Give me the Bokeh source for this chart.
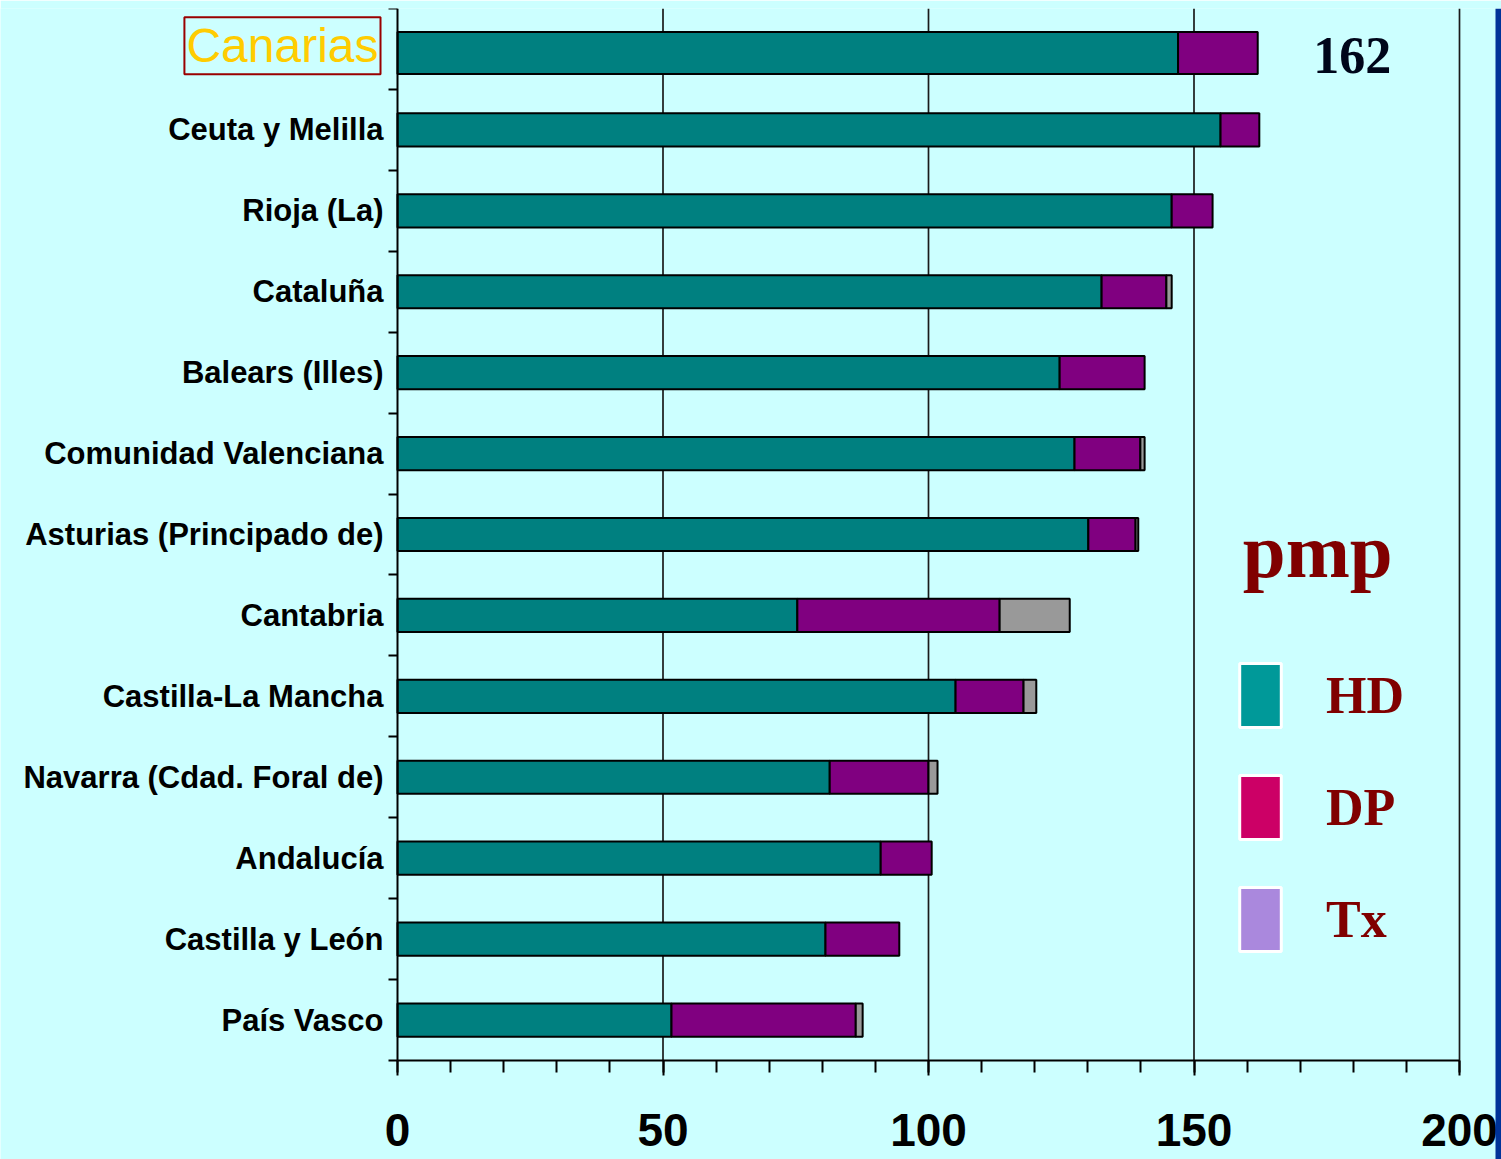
import numpy as np
from bokeh.plotting import figure
from bokeh.models import Range1d, FixedTicker, Label, ColumnDataSource, LinearAxis, BoxAnnotation
from bokeh.embed import file_html
from bokeh.resources import INLINE

# Patients per million population, by region and modality
regions = [
    "Canarias",
    "Ceuta y Melilla",
    "Rioja (La)",
    "Cataluña",
    "Balears (Illes)",
    "Comunidad Valenciana",
    "Asturias (Principado de)",
    "Cantabria",
    "Castilla-La Mancha",
    "Navarra (Cdad. Foral de)",
    "Andalucía",
    "Castilla y León",
    "País Vasco",
]
hd = [147.0, 155.0, 145.8, 132.6, 124.7, 127.5, 130.1, 75.3, 105.1, 81.4, 91.0, 80.6, 51.6]
dp = [15.0, 7.3, 7.7, 12.2, 16.0, 12.4, 8.9, 38.1, 12.8, 18.6, 9.6, 13.9, 34.7]
tx = [0.0, 0.0, 0.0, 1.0, 0.0, 0.8, 0.5, 13.2, 2.4, 1.7, 0.0, 0.0, 1.3]

series_names = ["HD", "DP", "Tx"]
x_ticks = [0, 50, 100, 150, 200]
x_minor = list(range(0, 201, 10))

BG = "#CCFFFF"
BAR_COLORS = ["#008080", "#800080", "#999999"]
KEY_COLORS = ["#009999", "#CC0066", "#AA88DD"]
DARK_RED = "#800000"

# canvas geometry (pixels)
W, H = 1501, 1159
TOP = 8            # top of the bar area
AXIS_Y = 1060      # x-axis line
ZERO_X = 397       # x = 0
END_X = 1459       # x = 200
BAND_X = 1495      # start of the blue edge band

n = len(regions)
row_px = (AXIS_Y - TOP) / n
px_per_unit = (END_X - ZERO_X) / 200.0
x_lo = -ZERO_X / px_per_unit
x_hi = 200 + (W - END_X) / px_per_unit
y_lo = 0.5 - (H - AXIS_Y) / row_px
y_hi = n + 0.5

ypos = np.arange(n, 0, -1).astype(float)   # first region on top
hd_a, dp_a, tx_a = (np.array(v, dtype=float) for v in (hd, dp, tx))
edges = [np.zeros(n), hd_a, hd_a + dp_a, hd_a + dp_a + tx_a]
first = ypos == n
heights = np.where(first, 0.52, 0.41)
bar_y = ypos - np.where(first, 0.05, 0.0)

p = figure(
    width=W, height=H,
    x_range=Range1d(x_lo, x_hi), y_range=Range1d(y_lo, y_hi),
    x_axis_type=None, y_axis_type=None,
    output_backend="svg", toolbar_location=None,
    min_border_left=0, min_border_right=0,
    min_border_top=TOP, min_border_bottom=0,
    background_fill_color=BG, border_fill_color=BG, outline_line_color=None,
)

# vertical reference lines at the labelled ticks
grid_x = x_ticks[1:]
p.segment(x0=grid_x, x1=grid_x, y0=[0.5] * len(grid_x), y1=[y_hi] * len(grid_x),
          line_color="#1a1a1a", line_width=1.7)

# stacked segments
for k, color in enumerate(BAR_COLORS):
    left, right = edges[k], edges[k + 1]
    keep = right > left
    src = ColumnDataSource(dict(y=bar_y[keep], left=left[keep], right=right[keep], h=heights[keep]))
    p.hbar(y="y", left="left", right="right", height="h", source=src,
           fill_color=color, line_color="black", line_width=2)

# key swatches (no visible bar of their own)
for name, color in zip(series_names, KEY_COLORS):
    p.hbar(y=[float("nan")], left=[0.0], right=[1.0], height=0.4, fill_color=color,
           line_color="white", line_width=3, legend_label=name)

lg = p.legend[0]
lg.location = (1234, H - 959)
lg.orientation = "vertical"
lg.background_fill_alpha = 0
lg.border_line_color = None
lg.padding = 0
lg.margin = 0
lg.spacing = 32
lg.glyph_width = 52
lg.glyph_height = 80
lg.label_standoff = 40
lg.label_text_font = "Liberation Serif"
lg.label_text_font_style = "bold"
lg.label_text_font_size = "52px"
lg.label_text_color = DARK_RED

# x axis, pinned at the bottom of the bars
xa = LinearAxis(fixed_location=0.5, bounds=(0, 200))
xa.ticker = FixedTicker(ticks=x_ticks, minor_ticks=x_minor)
xa.axis_line_color = "black"
xa.axis_line_width = 2
xa.major_tick_in = 0
xa.major_tick_out = 15
xa.major_tick_line_width = 2
xa.minor_tick_in = 0
xa.minor_tick_out = 12
xa.minor_tick_line_width = 2
xa.major_label_standoff = 38
xa.major_label_text_font = "Liberation Sans"
xa.major_label_text_font_style = "bold"
xa.major_label_text_font_size = "46px"
xa.major_label_text_color = "black"
p.add_layout(xa, "below")

# y axis at x = 0: names at row centres, ticks at row boundaries
ya = LinearAxis(fixed_location=0, bounds=(0.5, y_hi))
ya.ticker = FixedTicker(ticks=list(ypos), minor_ticks=list(np.arange(0.5, n + 1.0, 1.0)))
overrides = {int(y): name for y, name in zip(ypos, regions)}
overrides[n] = ""
ya.major_label_overrides = overrides
ya.axis_line_color = "black"
ya.axis_line_width = 2
ya.major_tick_line_color = None
ya.major_tick_in = 0
ya.major_tick_out = 0
ya.minor_tick_in = 0
ya.minor_tick_out = 9
ya.minor_tick_line_width = 2
ya.major_label_standoff = 5
ya.major_label_text_font = "Liberation Sans"
ya.major_label_text_font_style = "bold"
ya.major_label_text_font_size = "31px"
ya.major_label_text_color = "black"
p.add_layout(ya, "left")

# highlighted first region name
p.add_layout(Label(
    x=-3.2, y=n + 0.04, text=regions[0],
    text_align="right", text_baseline="middle",
    text_font="Liberation Sans", text_font_size="48px", text_color="#FFCC00",
    border_line_color="#990000", border_line_width=2, padding=2,
))

# total for the first region
total_first = hd_a[0] + dp_a[0] + tx_a[0]
p.add_layout(Label(
    x=179.8, y=12.919, text=f"{total_first:.0f}",
    text_align="center", text_baseline="alphabetic",
    text_font="Liberation Serif", text_font_style="bold",
    text_font_size="52px", text_color="#00061A",
))

# unit
p.add_layout(Label(
    x=159.2, y=6.802, text="pmp",
    text_align="left", text_baseline="alphabetic",
    text_font="Liberation Serif", text_font_style="bold",
    text_font_size="77px", text_color=DARK_RED,
))

# blue edge band on the right, drawn over everything
band_left = 200 + (BAND_X - END_X) / px_per_unit
p.add_layout(BoxAnnotation(left=band_left, fill_color="#003399", fill_alpha=1.0,
                           line_color=None, level="overlay"))

open("out.html", "w").write(file_html(p, INLINE))
